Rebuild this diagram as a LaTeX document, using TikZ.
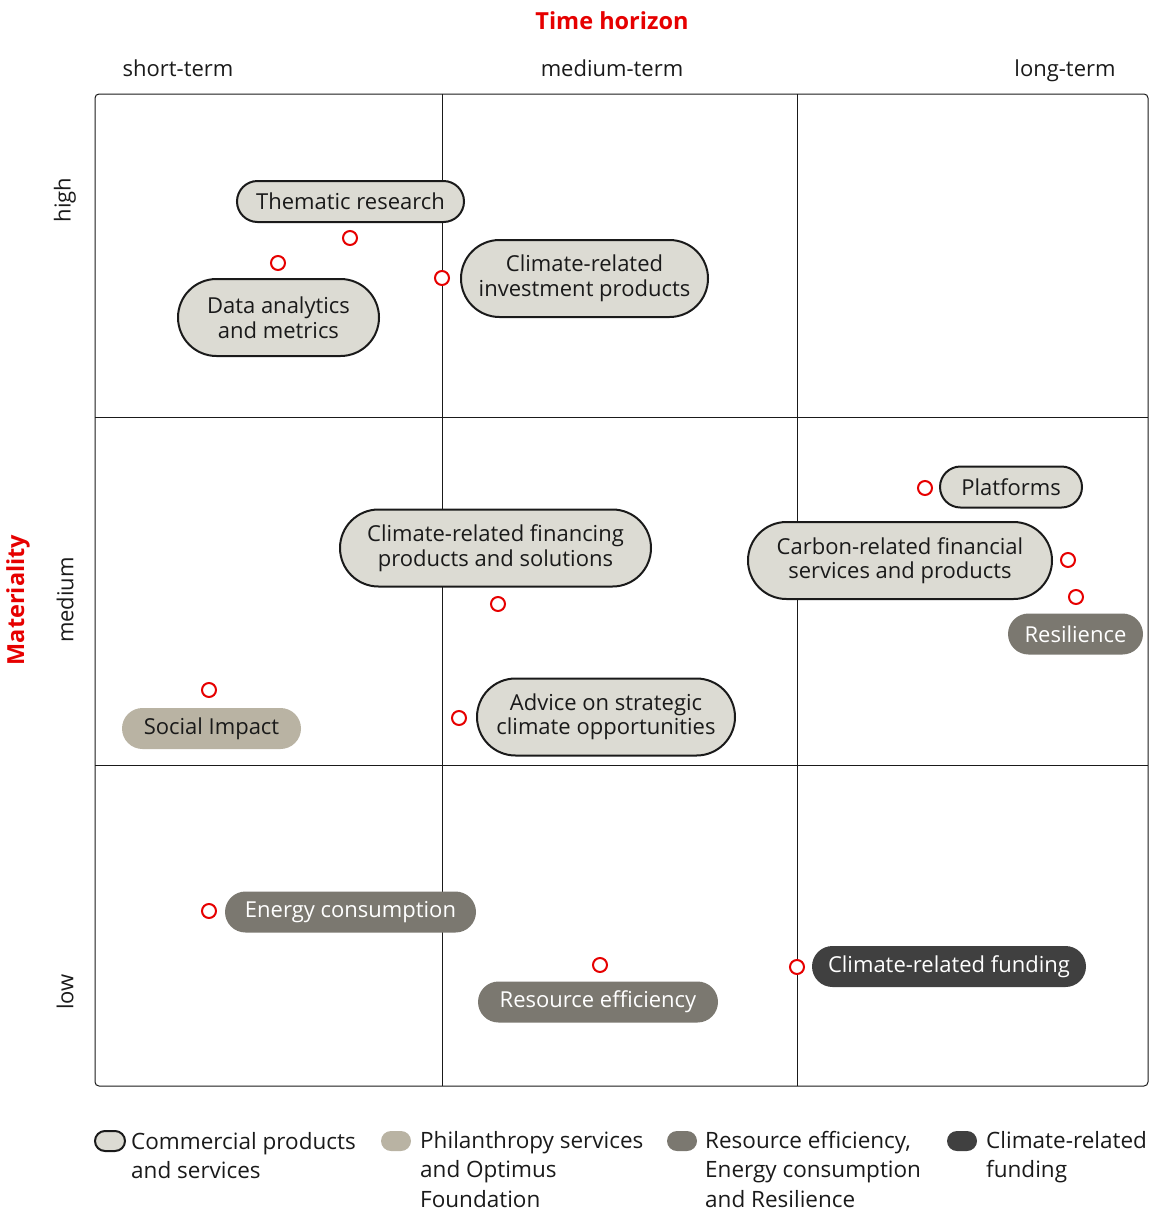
\documentclass[tikz,border=0pt]{standalone}
\usepackage{fontspec}
\setmainfont{Open Sans}
\definecolor{comm}{HTML}{DCDBD3}
\definecolor{phil}{HTML}{B9B3A3}
\definecolor{reso}{HTML}{7B7870}
\definecolor{fund}{HTML}{404040}
\definecolor{ubsred}{HTML}{E60000}
\definecolor{txt}{HTML}{1A1A1A}
\tikzset{
  pill/.style={draw=txt, line width=2pt, fill=comm, text=txt, inner sep=0pt, align=center,
    font=\fontsize{22}{24.5}\selectfont},
  pillone/.style={pill, minimum height=41pt, rounded corners=20.5pt},
  pilltwo/.style={pill, minimum height=77pt, rounded corners=38.5pt},
  philpill/.style={fill=phil, text=txt, inner sep=0pt, minimum height=41pt, rounded corners=20.5pt,
    font=\fontsize{22}{24.5}\selectfont},
  resopill/.style={fill=reso, text=white, inner sep=0pt, minimum height=41pt, rounded corners=20.5pt,
    font=\fontsize{22}{24.5}\selectfont},
  fundpill/.style={fill=fund, text=white, inner sep=0pt, minimum height=41pt, rounded corners=20.5pt,
    font=\fontsize{22}{24.5}\selectfont},
  dot/.style={circle, draw=ubsred, line width=2pt, fill=white, minimum size=14pt, inner sep=0pt},
  axislbl/.style={text=txt, font=\fontsize{22}{24}\selectfont},
  headlbl/.style={text=ubsred, font=\fontsize{23.5}{24}\selectfont\bfseries},
  legicon/.style={minimum width=30pt, minimum height=20pt, inner sep=0pt, rounded corners=10pt},
  legtxt/.style={text=txt, anchor=north west, align=left, inner sep=0pt, font=\fontsize{22.5}{29.5}\selectfont},
  grid/.style={draw=txt, line width=1pt}
}
\begin{document}
\begin{tikzpicture}[x=1pt,y=-1pt]
\useasboundingbox (0,0) rectangle (1149,1211);
% grid
\draw[grid, rounded corners=4pt] (95,94) rectangle (1148,1086);
\draw[grid] (442,94) -- (442,1086);
\draw[grid] (797,94) -- (797,1086);
\draw[grid] (95,417) -- (1148,417);
\draw[grid] (95,765) -- (1148,765);
% headings
\node[headlbl, anchor=base] (th) at (612,29) {Time horizon};
\node[headlbl, rotate=90] (mat) at (18,600) {Materiality};
\node[axislbl, anchor=base] (st) at (178,76) {short-term};
\node[axislbl, anchor=base] (mt) at (612,76) {medium-term};
\node[axislbl, anchor=base] (lt) at (1065,76) {long-term};
\node[axislbl, rotate=90] (hi) at (65,200) {high};
\node[axislbl, rotate=90] (me) at (65,600) {medium};
\node[axislbl, rotate=90] (lo) at (65,992) {low};
% nodes
\node[pillone, minimum width=227pt] (thr) at (350.5,201.5) {Thematic research};
\node[pilltwo, minimum width=201pt] (dam) at (278.5,317.5) {Data analytics\\and metrics};
\node[pilltwo, minimum width=247pt] (cip) at (584.5,278.5) {Climate-related\\investment products};
\node[pilltwo, minimum width=311pt] (cfp) at (495.5,548) {Climate-related financing\\products and solutions};
\node[pillone, minimum width=142pt] (plt) at (1011,487) {Platforms};
\node[pilltwo, minimum width=304pt] (cfs) at (900,560.5) {Carbon-related financial\\services and products};
\node[resopill, minimum width=135pt] (res) at (1075.5,634) {Resilience};
\node[philpill, minimum width=179pt] (soc) at (211.5,728.5) {Social Impact};
\node[pilltwo, minimum width=258pt] (adv) at (606,717) {Advice on strategic\\climate opportunities};
\node[resopill, minimum width=251pt] (eng) at (350.5,912) {Energy consumption};
\node[resopill, minimum width=240pt] (ref) at (598,1002) {Resource efficiency};
\node[fundpill, minimum width=274pt] (crf) at (949,966.5) {Climate-related funding};
% dots
\node[dot] (d1) at (350,238) {};
\node[dot] (d2) at (278,263) {};
\node[dot] (d3) at (442,278) {};
\node[dot] (d4) at (925,488) {};
\node[dot] (d5) at (1068,560) {};
\node[dot] (d6) at (1076,597) {};
\node[dot] (d7) at (498,604) {};
\node[dot] (d8) at (209,690) {};
\node[dot] (d9) at (459,718) {};
\node[dot] (d10) at (209,911) {};
\node[dot] (d11) at (600,965) {};
\node[dot] (d12) at (797,967) {};
% legend
\node[legicon, draw=txt, line width=2pt, fill=comm] (l1) at (110,1141) {};
\node[legtxt] (t1) at (131,1132) {Commercial products\\and services};
\node[legicon, fill=phil] (l2) at (396,1141) {};
\node[legtxt] (t2) at (420,1131) {Philanthropy services\\and Optimus\\Foundation};
\node[legicon, fill=reso] (l3) at (682,1141) {};
\node[legtxt] (t3) at (705,1131) {Resource efficiency,\\Energy consumption\\and Resilience};
\node[legicon, fill=fund] (l4) at (962,1141) {};
\node[legtxt] (t4) at (986,1131) {Climate-related\\funding};
\end{tikzpicture}
\end{document}
